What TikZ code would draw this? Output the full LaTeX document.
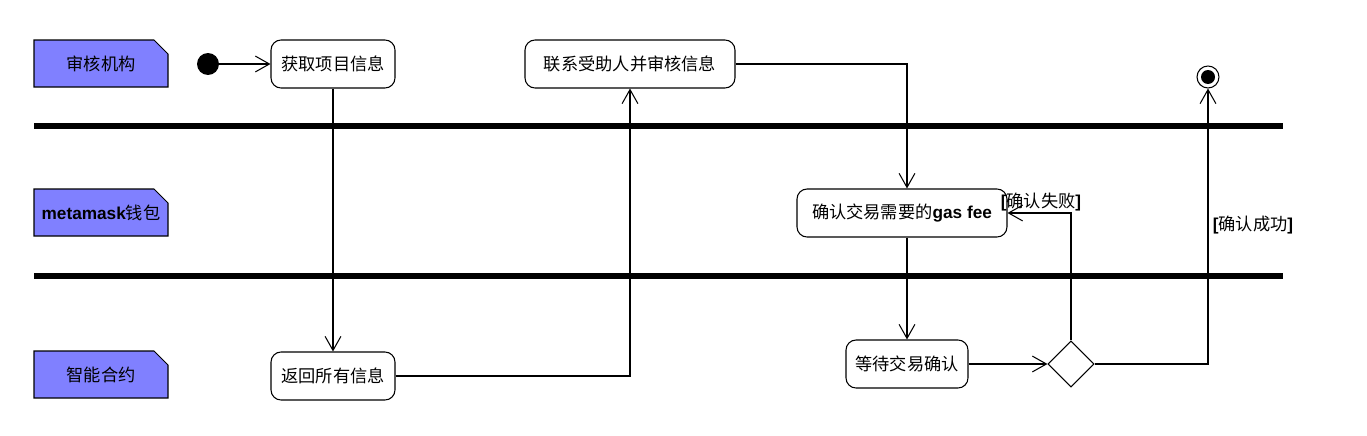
\documentclass[tikz,border=0pt]{standalone}
\usepackage{fontspec}
\setmainfont{Noto Sans CJK SC}
\newfontfamily\latin{Liberation Sans}
\usetikzlibrary{arrows.meta,calc,shapes.geometric}
\definecolor{lanefill}{RGB}{128,128,255}
\newcommand{\en}[1]{{\latin\bfseries #1}}

\begin{document}
\begin{tikzpicture}[x=0.02cm,y=-0.02cm,
    act/.style={draw,rounded corners=0.2cm,minimum height=0.96cm,inner sep=0pt,line width=0.6pt},
    flow/.style={-{Straight Barb[length=8pt,width=9pt]},line width=0.6pt},
    sep/.style={line width=3.4pt},
    lab/.style={inner sep=1pt},
    font=\fontsize{9.8}{12}\selectfont]
    \useasboundingbox (0,0) rectangle (1367,436);

    % swimlane notes
    \foreach \n/\yy/\txt in {aud/40/审核机构, mm/189/\en{metamask}钱包, sc/351/智能合约} {
      \filldraw[fill=lanefill,line width=0.6pt] (34,\yy) -- ++(120,0) -- ++(14,14) -- ++(0,33) -- ++(-134,0) -- cycle;
      \node (\n) at (101,\yy+23.5) {\txt};
    }
    % lane separators
    \draw[sep] (34,126) -- (1283,126);
    \draw[sep] (34,276) -- (1283,276);

    % activities
    \node[circle,fill,minimum size=0.44cm,inner sep=0pt] (start) at (208,64) {};
    \node[act,minimum width=2.48cm] (get) at (333,64) {获取项目信息};
    \node[act,minimum width=4.2cm] (contact) at (630,64) {联系受助人并审核信息};
    \node[act,minimum width=4.2cm] (cf) at (902,213) {确认交易需要的\en{gas fee}};
    \node[act,minimum width=2.44cm] (wait) at (907,364) {等待交易确认};
    \node[act,minimum width=2.48cm] (ret) at (333,376) {返回所有信息};
    \node[diamond,draw,line width=0.6pt,minimum width=0.92cm,minimum height=0.92cm,inner sep=0pt] (dec) at (1071,364) {};
    \node[circle,draw,line width=0.6pt,minimum size=0.44cm,inner sep=0pt] (fin) at (1208,77) {};
    \fill (fin) circle (0.14cm);

    % flows
    \draw[flow] (start) -- (get);
    \draw[flow] (get) -- (ret);
    \draw[flow] (ret.east) -| (contact.south);
    \draw[flow] (contact.east) -| (cf.north -| wait.north);
    \draw[flow] (cf.south -| wait.north) -- (wait.north);
    \draw[flow] (wait) -- (dec);
    \draw[flow] (dec.north) |- (cf.east);
    \draw[flow] (dec.east) -| (fin.south);

    % guards
    \node[lab] (fail) at (1041,202) {\en{[}确认失败\en{]}};
    \node[lab] (ok) at (1253,225) {\en{[}确认成功\en{]}};
\end{tikzpicture}
\end{document}
